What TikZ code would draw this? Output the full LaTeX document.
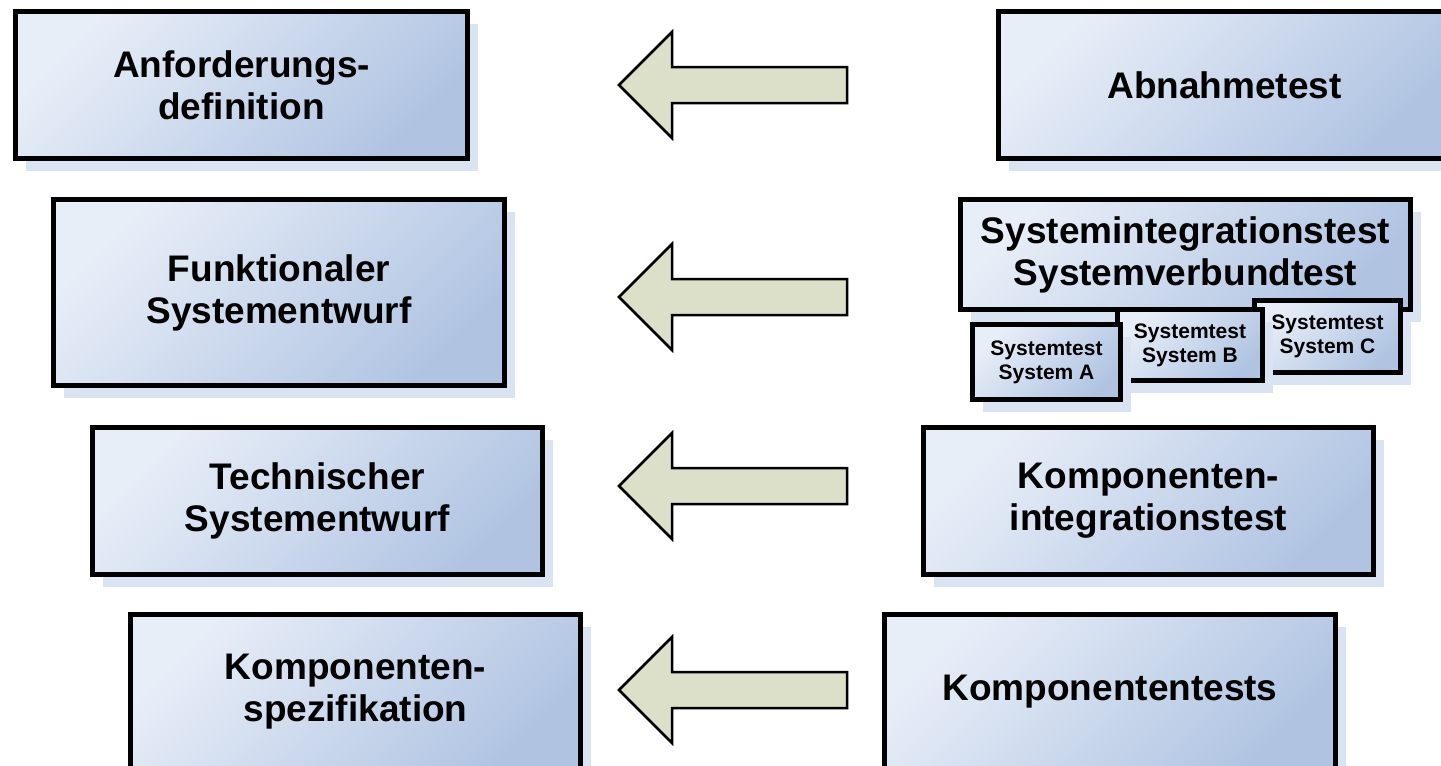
\documentclass[tikz,border=0pt]{standalone}
\usepackage{fontspec}
\setmainfont{Liberation Sans}
\usetikzlibrary{shadows}
\definecolor{boxlight}{RGB}{232,238,248}
\definecolor{boxdark}{RGB}{176,196,226}
\definecolor{shadowcol}{RGB}{218,227,242}
\definecolor{arrowfill}{RGB}{220,224,201}
\newcommand\bigtxt{\fontsize{37}{42}\selectfont\bfseries}
\newcommand\smalltxt{\fontsize{21}{24}\selectfont\bfseries}
\tikzset{
  box/.style={draw=black, line width=5pt, line join=miter, rectangle, inner sep=0pt, align=center,
    text=black, font=\bigtxt,
    top color=boxlight, bottom color=boxdark, shading angle=45,
    drop shadow={shadow xshift=10pt, shadow yshift=-12pt, fill=shadowcol, opacity=1}},
  smallbox/.style={box, font=\smalltxt},
  arrowshape/.style={draw=black, line width=2.5pt, line join=miter, fill=arrowfill},
  leftarrow/.pic={\path[arrowshape] (0,0) -- (53,-53) -- (53,-18) -- (228,-18) -- (228,18) -- (53,18) -- (53,53) -- cycle;}
}
\begin{document}
\begin{tikzpicture}[x=1pt,y=-1pt]
\useasboundingbox (0,0) rectangle (1441,766);
\clip (0,0) rectangle (1441,766);
% left column
\node[box, minimum width=452, minimum height=147] (anf) at (241.5,85) {Anforderungs-\\definition};
\node[box, minimum width=451, minimum height=186] (fkt) at (279,292.5) {Funktionaler\\Systementwurf};
\node[box, minimum width=450, minimum height=147] (tec) at (317.5,501) {Technischer\\Systementwurf};
\node[box, minimum width=450, minimum height=155] (ksp) at (355.5,692) {Komponenten-\\spezifikation};
% right column
\node[box, minimum width=452, minimum height=147] (abn) at (1224.5,85) {Abnahmetest};
\node[box, minimum width=450, minimum height=110] (sit) at (1185.5,254.5) {Systemintegrationstest\\Systemverbundtest};
\node[smallbox, minimum width=146, minimum height=72] (sc) at (1327.5,336.5) {Systemtest\\System C};
\node[smallbox, minimum width=145, minimum height=71] (sb) at (1190,345) {Systemtest\\System B};
\node[smallbox, minimum width=148, minimum height=75] (sa) at (1046.5,362) {Systemtest\\System A};
\node[box, minimum width=450, minimum height=147] (kit) at (1148.5,501) {Komponenten-\\integrationstest};
\node[box, minimum width=451, minimum height=155] (kts) at (1110,692) {Komponententests};
% arrows
\pic (a1) at (619,85) {leftarrow};
\pic (a2) at (619,297) {leftarrow};
\pic (a3) at (619,486) {leftarrow};
\pic (a4) at (619,690) {leftarrow};
\end{tikzpicture}
\end{document}
